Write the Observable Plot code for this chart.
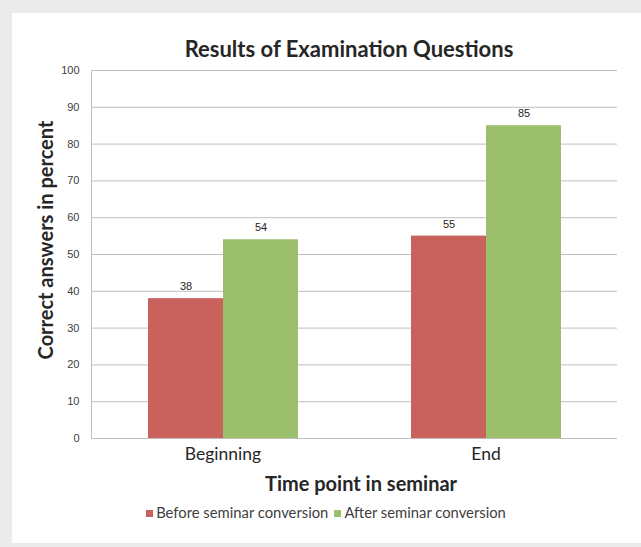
<!DOCTYPE html>
<html>
<head>
<meta charset="utf-8">
<script src="https://cdn.jsdelivr.net/npm/d3@7"></script>
<script src="https://cdn.jsdelivr.net/npm/@observablehq/plot@0.6"></script>
<style>
  html, body { margin: 0; padding: 0; background: #ebebeb; width: 641px; height: 547px; overflow: hidden; }
  #panel { position: absolute; left: 12px; top: 13px; width: 629px; height: 530px; background: #fff; }
  .t { position: absolute; font-family: Lato, "Open Sans", sans-serif; color: #262626; white-space: nowrap; line-height: 1; }
  #title { left: 0; width: 698px; top: 38px; text-align: center; font-weight: bold; font-size: 22px; }
  #xlabel { left: 0; width: 722px; top: 473px; text-align: center; font-weight: bold; font-size: 20px; }
  #ylabel { left: 45px; top: 240px; font-weight: bold; font-size: 20px; transform: translate(-50%, -50%) rotate(-90deg); }
  #legend { left: 0; width: 652px; top: 505px; text-align: center; font-size: 14.8px; color: #404040; }
  .sw { display: inline-block; width: 7px; height: 7px; margin-right: 3px; vertical-align: 1px; }
  .item { margin: 0 3px; }
  #chart { position: absolute; left: 12px; top: 60px; }
</style>
</head>
<body>
<div id="panel"></div>
<div class="t" id="title">Results of Examination Questions</div>
<div id="chart"></div>
<div class="t" id="ylabel">Correct answers in percent</div>
<div class="t" id="xlabel">Time point in seminar</div>
<div class="t" id="legend"></div>
<script>
const categories = ["Beginning", "End"];
const series = ["Before seminar conversion", "After seminar conversion"];
const beforeValues = [38, 55];
const afterValues = [54, 85];
const colors = ["#c9625d", "#9bbf6b"];
const yTicks = [0, 10, 20, 30, 40, 50, 60, 70, 80, 90, 100];

const data = [];
categories.forEach((c, i) => {
  data.push({time: c, series: series[0], value: beforeValues[i]});
  data.push({time: c, series: series[1], value: afterValues[i]});
});

const chart = Plot.plot({
  width: 620,
  height: 420,
  marginLeft: 79,
  marginRight: 15,
  marginTop: 10,
  marginBottom: 42,
  style: {fontFamily: "'Liberation Sans', Arial, sans-serif", fontSize: "11px", color: "#404040", background: "transparent"},
  fx: {domain: categories, padding: 0, label: null},
  x: {domain: series, paddingInner: 0, paddingOuter: 0.747, axis: null},
  y: {domain: [0, 100], ticks: yTicks},
  color: {domain: series, range: colors},
  marks: [
    Plot.gridY(yTicks, {stroke: "#bfbfbf", strokeOpacity: 1}),
    Plot.barY(data, {fx: "time", x: "series", y: "value", fill: "series"}),
    Plot.text(data, {fx: "time", x: "series", y: "value", text: d => String(d.value), dy: -12, fill: "#262626", fontSize: 11}),
    Plot.frame({anchor: "left", stroke: "#bfbfbf", facet: "super"}),
    Plot.axisY(yTicks, {tickSize: 0, tickPadding: 12, label: null, fontSize: 11, fill: "#404040"}),
    Plot.axisFx({anchor: "bottom", tickSize: 0, tickPadding: 9, label: null, fontSize: 17.5, fontFamily: "Lato, sans-serif", fill: "#262626"})
  ]
});
document.getElementById("chart").appendChild(chart);

const legend = document.getElementById("legend");
series.forEach((s, i) => {
  const item = document.createElement("span");
  item.className = "item";
  const sw = document.createElement("span");
  sw.className = "sw";
  sw.style.background = colors[i];
  item.appendChild(sw);
  item.appendChild(document.createTextNode(s));
  legend.appendChild(item);
});
</script>
</body>
</html>
